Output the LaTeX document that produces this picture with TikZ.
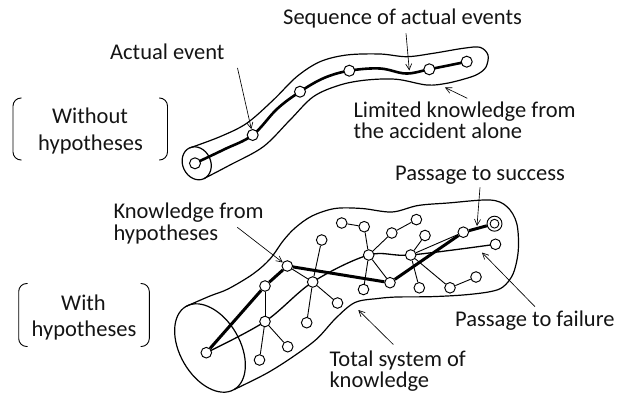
\documentclass[tikz,border=0pt]{standalone}
\usepackage{fontspec}
\setmainfont{Carlito}
\usetikzlibrary{arrows.meta,backgrounds}
\tikzset{
  lbl/.style={font=\fontsize{22.5}{27}\selectfont, inner sep=0pt, anchor=base west, text=black!92},
  lblc/.style={lbl, anchor=base},
  evnode/.style={circle, draw, fill=white, minimum size=11pt, inner sep=0pt, line width=1pt},
  knnode/.style={circle, draw, fill=white, minimum size=10.6pt, inner sep=0pt, line width=0.95pt},
  outline/.style={line width=1.2pt},
  thinedge/.style={line width=0.9pt},
  failedge/.style={line width=1.3pt},
  boldedge/.style={line width=3pt},
  eventpath/.style={line width=2.6pt},
  callout/.style={line width=0.65pt, -{Straight Barb[length=6pt,width=6pt,line width=0.65pt]}},
  brk/.style={line width=0.9pt, rounded corners=8pt}
}
\begin{document}
\begin{tikzpicture}[x=1pt,y=-1pt]
\useasboundingbox (0,0) rectangle (618,393);

% ---------- top tube nodes ----------
\node[evnode] (t1) at (195,163.3) {};
\node[evnode] (t2) at (252.7,135) {};
\node[evnode] (t3) at (300,91.7) {};
\node[evnode] (t4) at (349.3,70.7) {};
\node[evnode] (t5) at (429.3,69.3) {};
\node[evnode] (t6) at (466.7,61.7) {};

% ---------- bottom nodes ----------
\node[knnode] (b0) at (206.3,352.7) {};
\node[knnode] (b1) at (265,286) {};
\node[knnode] (b2) at (287.3,266) {};
\node[knnode] (b3) at (265,321.5) {};
\node[knnode] (b4) at (259.5,360) {};
\node[knnode] (b5) at (287.7,346.7) {};
\node[knnode] (b6) at (312.7,282) {};
\node[knnode] (b7) at (321.7,240) {};
\node[knnode] (b8) at (306.7,322.7) {};
\node[knnode] (b9) at (337.5,303) {};
\node[knnode] (b10) at (341.7,223) {};
\node[knnode] (b11) at (364.2,226.7) {};
\node[knnode] (b12) at (368.7,255) {};
\node[knnode] (b13) at (363.5,289.5) {};
\node[knnode] (b14) at (391.8,233) {};
\node[knnode] (b15) at (416.4,219.6) {};
\node[knnode] (b16) at (390,282.7) {};
\node[knnode] (b17) at (410.7,255) {};
\node[knnode] (b18) at (425,235.5) {};
\node[knnode] (b19) at (419.3,287.8) {};
\node[knnode] (b20) at (450,287.8) {};
\node[knnode] (b21) at (476,277) {};
\node[knnode] (b22) at (463.3,232.2) {};
\node[knnode, minimum size=15pt] (b23) at (494.5,223.7) {};
\draw[line width=0.9pt] (b23.center) circle[radius=4.4];
\node[knnode] (b24) at (495.5,244.3) {};

\begin{pgfonlayer}{background}
  % top tube
  \draw[outline] plot[smooth, tension=0.55] coordinates {
    (189.6,148) (220,136.7) (246.7,123.3) (273.3,100) (296.7,76.7) (320,61.7)
    (346.7,55) (380,54) (406.7,56.7) (433.3,53.3) (463.3,48.3) (480,47.3)
    (488,55) (486,67) (478,74) (466.7,78.3) (446.7,83.3) (426.7,85)
    (396.7,79.3) (366.7,80) (340,85) (313.3,96.7) (290,120) (263.3,146.7)
    (230,165) (203.8,178.7)};
  \draw[outline] (196.7,163.3) ellipse[x radius=17, y radius=14, rotate=-65];
  \draw[eventpath] plot[smooth, tension=0.6] coordinates {
    (t1) (224,149.5) (t2) (277,109) (t3) (324,78) (t4) (380,68.5) (406,73.5) (t5) (t6)};
  % bottom tube
  \draw[outline] plot[smooth, tension=0.55] coordinates {
    (186,306.4) (210,296) (228,289) (253,274) (270,259) (283,241) (295,228)
    (312,216) (335,208.5) (362,208.5) (392,212) (418,205.5) (448,203) (490,200)
    (507,206.7) (516.7,223.3) (518.3,250) (513.3,273.3) (503.3,286.7) (490,291.7)
    (463,295) (430,296.7) (397,297) (378,298.5) (355,302.5) (336,318) (316.7,339)
    (293,356.7) (266.7,373.3) (234,389.6)};
  \draw[outline] (210,348) ellipse[x radius=48, y radius=30, rotate=-60];
  % failure passage
  \draw[failedge] plot[smooth, tension=0.55] coordinates {(b0) (b3) (b6) (b12) (b17) (b24)};
  % branches
  \draw[thinedge] (b1) -- (b3);
  \draw[thinedge] (b3) -- (b4);
  \draw[thinedge] (b3) -- (b5);
  \draw[thinedge] (b2) -- (b6);
  \draw[thinedge] (b6) -- (b7);
  \draw[thinedge] (b6) -- (b8);
  \draw[thinedge] (b6) -- (b9);
  \draw[thinedge] (b10) -- (b11);
  \draw[thinedge] (b11) -- (b12);
  \draw[thinedge] (b12) -- (b13);
  \draw[thinedge] (b12) -- (b14);
  \draw[thinedge] (b14) -- (b15);
  \draw[thinedge] (b12) -- (b16);
  \draw[thinedge] (b17) -- (b18);
  \draw[thinedge] (b17) -- (b19);
  \draw[thinedge] (b17) -- (b20);
  \draw[thinedge] (b20) -- (b21);
  \draw[thinedge] (b17) -- (b22);
  % success passage
  \draw[boldedge] (b0) -- (b1) -- (b2) -- (b16) -- (b22) -- (b23);
\end{pgfonlayer}

% ---------- labels ----------
\node[lbl] (lseq) at (283,25) {Sequence of actual events};
\node[lbl] (lact) at (110,59.3) {Actual event};
\node[lbl] (llim1) at (353.3,117.3) {Limited knowledge from};
\node[lbl] (llim2) at (353.3,138.3) {the accident alone};
\node[lbl] (lsuc) at (395,180) {Passage to success};
\node[lbl] (lkn1) at (113.3,218.3) {Knowledge from};
\node[lbl] (lkn2) at (113.3,240.7) {hypotheses};
\node[lbl] (lfail) at (455,326.7) {Passage to failure};
\node[lbl] (ltot1) at (329.3,366) {Total system of};
\node[lbl] (ltot2) at (329.3,387.3) {knowledge};
\node[lblc] (lwo1) at (90,123.3) {Without};
\node[lblc] (lwo2) at (90.5,150) {hypotheses};
\node[lblc] (lw1) at (83.5,310) {With};
\node[lblc] (lw2) at (84,336.7) {hypotheses};

% ---------- brackets ----------
\draw[brk] (21.7,98) -- (13,98) -- (13,160) -- (21.7,160);
\draw[brk] (159,98) -- (167.5,98) -- (167.5,160) -- (159,160);
\draw[brk] (27.5,283.5) -- (18.7,283.5) -- (18.7,346.5) -- (27.5,346.5);
\draw[brk] (140.5,283.5) -- (149.3,283.5) -- (149.3,346.5) -- (140.5,346.5);

% ---------- callout arrows ----------
\coordinate (aseq0) at (406,33.3);
\coordinate (aseq1) at (409.3,70.5);
\coordinate (aact0) at (237.5,68);
\coordinate (alim0) at (467.3,98.3);
\coordinate (alim1) at (445,87.5);
\coordinate (akn0) at (237.3,227.3);
\coordinate (asuc0) at (480,187.3);
\coordinate (asuc1) at (477,226);
\coordinate (afail0) at (535,306.7);
\coordinate (afail1) at (482,252.5);
\coordinate (atot0) at (393.3,344.5);
\coordinate (atot1) at (358.3,310);
\draw[callout] (aseq0) -- (aseq1);
\draw[callout] (aact0) -- (t2);
\draw[callout] (alim0) -- (alim1);
\draw[callout] (akn0) -- (b2);
\draw[callout] (asuc0) -- (asuc1);
\draw[callout] (afail0) -- (afail1);
\draw[callout] (atot0) -- (atot1);
\end{tikzpicture}
\end{document}
